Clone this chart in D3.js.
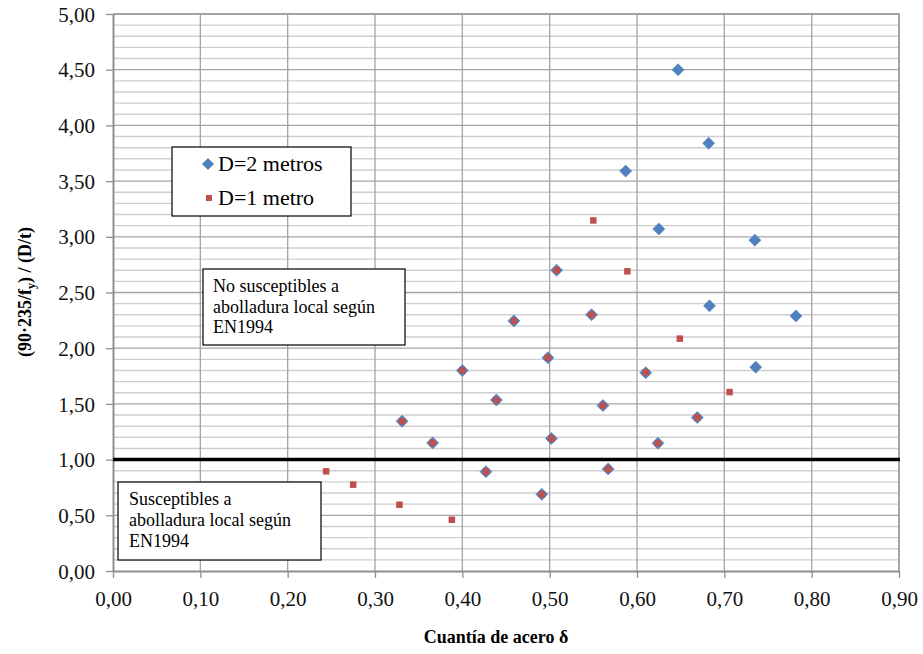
<!DOCTYPE html>
<html>
<head>
<meta charset="utf-8">
<script src="https://cdn.jsdelivr.net/npm/d3@7"></script>
<style>
  html, body { margin: 0; padding: 0; background: #fff; }
  svg { display: block; }
  svg text { font-family: 'Liberation Serif', 'Times New Roman', Tinos, 'DejaVu Serif', serif !important; }
</style>
</head>
<body>
<svg id="chart" width="923" height="654"></svg>
<script>
// Steel ratio (x) vs slenderness parameter (y), two tube diameters
const seriesNames = ["D=2 metros", "D=1 metro"];
const seriesColors = ["#4F81BD", "#C0504D"];

const d2X = [0.647, 0.682, 0.587, 0.625, 0.735, 0.508, 0.683, 0.782, 0.548, 0.459, 0.498, 0.400,
             0.610, 0.736, 0.439, 0.561, 0.331, 0.669, 0.366, 0.502, 0.624, 0.427, 0.567, 0.491];
const d2Y = [4.50, 3.84, 3.59, 3.07, 2.97, 2.70, 2.38, 2.29, 2.30, 2.245, 1.915, 1.80,
             1.78, 1.83, 1.535, 1.485, 1.345, 1.378, 1.15, 1.19, 1.147, 0.892, 0.916, 0.688];

const d1X = [0.550, 0.589, 0.508, 0.548, 0.459, 0.649, 0.498, 0.400, 0.610, 0.706, 0.439, 0.561,
             0.331, 0.669, 0.366, 0.502, 0.624, 0.244, 0.275, 0.427, 0.567, 0.328, 0.491, 0.388];
const d1Y = [3.147, 2.69, 2.70, 2.30, 2.245, 2.086, 1.915, 1.80, 1.783, 1.606, 1.534, 1.486,
             1.345, 1.378, 1.15, 1.189, 1.147, 0.895, 0.775, 0.892, 0.916, 0.595, 0.688, 0.46];

const xTicks = [0, 0.1, 0.2, 0.3, 0.4, 0.5, 0.6, 0.7, 0.8, 0.9];
const yTicks = [0, 0.5, 1.0, 1.5, 2.0, 2.5, 3.0, 3.5, 4.0, 4.5, 5.0];
const yMinorTicks = d3.range(0, 51).map(i => i / 10);
const limitValue = 1.0;

const boxUpperLines = ["No susceptibles a", "abolladura local según", "EN1994"];
const boxLowerLines = ["Susceptibles a", "abolladura local según", "EN1994"];

const FONT = "'Liberation Serif', 'Times New Roman', Tinos, 'DejaVu Serif', serif";
const svg = d3.select("#chart").attr("font-family", FONT);
const m = { left: 113, right: 899, top: 14, bottom: 571 };

const x = d3.scaleLinear().domain([0, 0.9]).range([m.left, m.right]);
const y = d3.scaleLinear().domain([0, 5]).range([m.bottom, m.top]);
const fmt = v => d3.format(".2f")(v).replace(".", ",");

// minor horizontal grid
svg.append("g").selectAll("line")
  .data(yMinorTicks.filter(v => Math.abs(v * 2 - Math.round(v * 2)) > 1e-6))
  .join("line")
  .attr("x1", m.left).attr("x2", m.right)
  .attr("y1", d => y(d)).attr("y2", d => y(d))
  .attr("stroke", "#cfcfcf").attr("stroke-width", 1.4);

// major horizontal grid
svg.append("g").selectAll("line")
  .data(yTicks.filter(v => v > 0))
  .join("line")
  .attr("x1", m.left).attr("x2", m.right)
  .attr("y1", d => y(d)).attr("y2", d => y(d))
  .attr("stroke", "#a5a5a5").attr("stroke-width", 1.3);

// vertical grid
svg.append("g").selectAll("line")
  .data(xTicks.filter(v => v > 0))
  .join("line")
  .attr("x1", d => x(d)).attr("x2", d => x(d))
  .attr("y1", m.top).attr("y2", m.bottom)
  .attr("stroke", "#a5a5a5").attr("stroke-width", 1.3);

// axes
const xAxis = d3.axisBottom(x).tickValues(xTicks).tickFormat(fmt).tickSize(7).tickSizeOuter(0).tickPadding(13);
const yAxis = d3.axisLeft(y).tickValues(yTicks).tickFormat(fmt).tickSize(7).tickSizeOuter(0).tickPadding(11);

const gx = svg.append("g").attr("transform", `translate(0,${m.bottom})`).call(xAxis);
const gy = svg.append("g").attr("transform", `translate(${m.left},0)`).call(yAxis);
[gx, gy].forEach(g => {
  g.attr("font-family", FONT).attr("font-size", 21);
  g.select(".domain").attr("stroke", "#8f8f8f").attr("stroke-width", 2);
  g.selectAll(".tick line").attr("stroke", "#8f8f8f").attr("stroke-width", 1.3);
  g.selectAll(".tick text").attr("fill", "#111");
});
gx.selectAll(".tick text").attr("dy", "0.71em");
gy.selectAll(".tick text").attr("dy", "0.34em");

// plot frame (top / right)
svg.append("path")
  .attr("d", `M${m.left},${m.top}H${m.right}V${m.bottom}`)
  .attr("fill", "none").attr("stroke", "#9a9a9a").attr("stroke-width", 1.5);

// limit line
svg.append("line")
  .attr("x1", x(0)).attr("x2", x(0.9) + 1)
  .attr("y1", y(limitValue)).attr("y2", y(limitValue))
  .attr("stroke", "#000").attr("stroke-width", 3.5);

// D=2 metros: diamonds
const d2 = d2X.map((v, i) => ({ x: v, y: d2Y[i] }));
const d1 = d1X.map((v, i) => ({ x: v, y: d1Y[i] }));
const diamond = d3.symbol().type(d3.symbolSquare).size(72);

svg.append("g").selectAll("path")
  .data(d2).join("path")
  .attr("d", diamond)
  .attr("transform", d => `translate(${x(d.x)},${y(d.y)}) rotate(45)`)
  .attr("fill", seriesColors[0]).attr("stroke", seriesColors[0]).attr("stroke-width", 0.6);

// D=1 metro: squares
svg.append("g").selectAll("rect")
  .data(d1).join("rect")
  .attr("x", d => x(d.x) - 3.25).attr("y", d => y(d.y) - 3.25)
  .attr("width", 6.5).attr("height", 6.5)
  .attr("fill", seriesColors[1]);

// annotation boxes
function textBox(x0, y0, w, h, lines, tx, ty0, lh) {
  svg.append("rect").attr("x", x0).attr("y", y0).attr("width", w).attr("height", h)
    .attr("fill", "#fff").attr("stroke", "#000").attr("stroke-width", 1.2);
  const t = svg.append("text").attr("font-size", 18).attr("fill", "#000");
  lines.forEach((s, i) => t.append("tspan").attr("x", tx).attr("y", ty0 + i * lh).text(s));
}
textBox(203, 269, 202, 76, boxUpperLines, 213, 292, 20.5);
textBox(118, 482, 203, 78, boxLowerLines, 129, 505, 21);

// legend
const lg = svg.append("g");
lg.append("rect").attr("x", 172).attr("y", 147).attr("width", 179).attr("height", 69)
  .attr("fill", "#fff").attr("stroke", "#000").attr("stroke-width", 1.2);
lg.append("path").attr("d", diamond).attr("transform", "translate(208,164) rotate(45)")
  .attr("fill", seriesColors[0]);
lg.append("rect").attr("x", 206).attr("y", 195).attr("width", 6).attr("height", 6)
  .attr("fill", seriesColors[1]);
lg.append("text").attr("x", 218).attr("y", 171).attr("font-size", 22).text(seriesNames[0]);
lg.append("text").attr("x", 218).attr("y", 205).attr("font-size", 22).text(seriesNames[1]);

// axis titles
svg.append("text")
  .attr("x", (m.left + m.right) / 2 - 10).attr("y", 643)
  .attr("text-anchor", "middle").attr("font-weight", "bold").attr("font-size", 18)
  .text("Cuantía de acero δ");

const yt = svg.append("text")
  .attr("transform", "translate(31,292) rotate(-90)")
  .attr("text-anchor", "middle").attr("font-weight", "bold").attr("font-size", 18);
yt.append("tspan").text("(90·235/f");
yt.append("tspan").attr("font-size", 12).attr("dy", 4).text("y");
yt.append("tspan").attr("dy", -4).text(") / (D/t)");
</script>
</body>
</html>
